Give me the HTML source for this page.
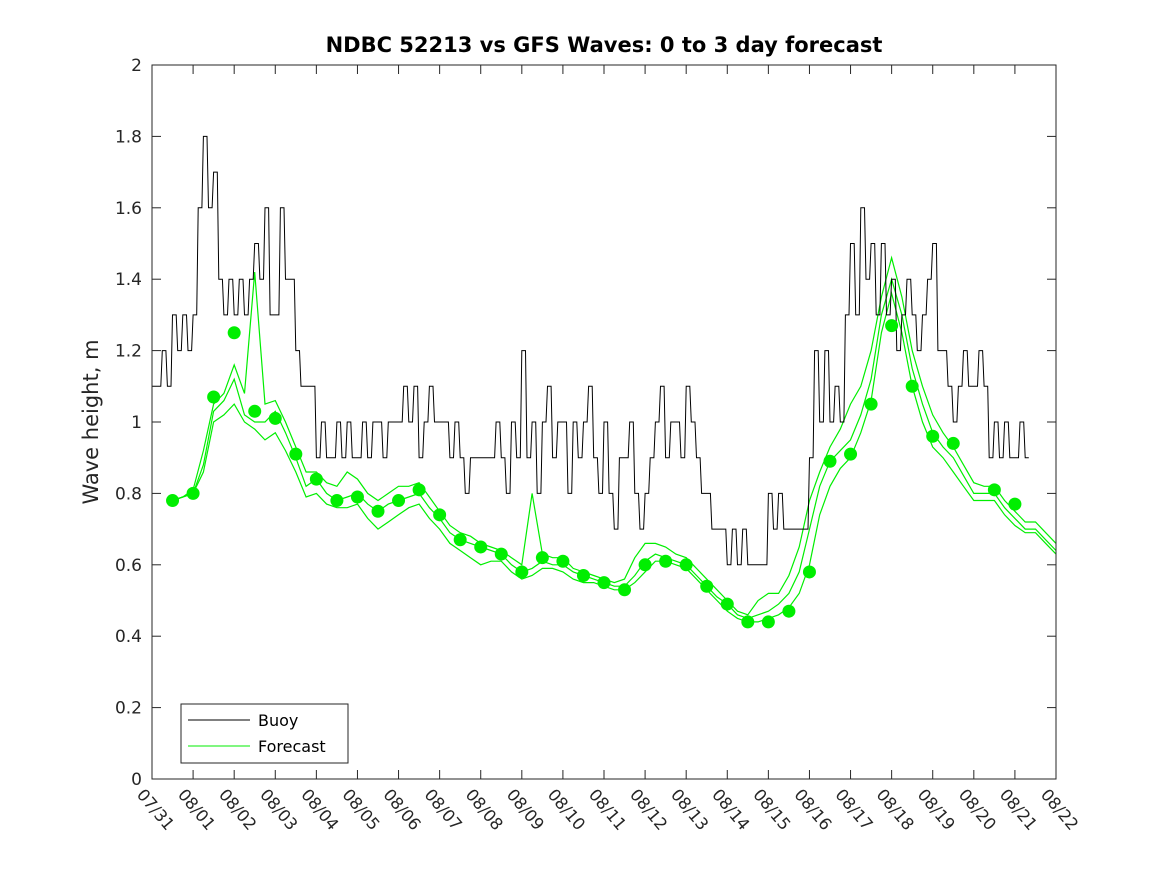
<!DOCTYPE html>
<html><head><meta charset="utf-8"><style>body{margin:0;background:#fff}svg{display:block}</style></head>
<body>
<svg id="c" width="1167" height="875" xmlns="http://www.w3.org/2000/svg" font-family="DejaVu Sans, sans-serif">
<rect width="1167" height="875" fill="#fff"/>
<text x="604" y="52" text-anchor="middle" font-weight="bold" font-size="21" fill="#000">NDBC 52213 vs GFS Waves: 0 to 3 day forecast</text>
<text transform="translate(98,422) rotate(-90)" text-anchor="middle" font-size="21" fill="#262626">Wave height, m</text>
<g id="grid"></g>
<g id="marks"></g>
<rect x="152" y="65" width="904" height="714" fill="none" stroke="#262626" stroke-width="1"/>
<g>
<rect x="181" y="704" width="167" height="59" fill="#fff" stroke="#262626"/>
<line x1="188" y1="720" x2="250" y2="720" stroke="#000"/>
<text x="258" y="726" font-size="16" fill="#000">Buoy</text>
<line x1="188" y1="746" x2="250" y2="746" stroke="#00ee00"/>
<text x="258" y="752" font-size="16" fill="#000">Forecast</text>
</g>
</svg>
<script>
const xTickLabels=["07/31","08/01","08/02","08/03","08/04","08/05","08/06","08/07","08/08","08/09","08/10","08/11","08/12","08/13","08/14","08/15","08/16","08/17","08/18","08/19","08/20","08/21","08/22"];
const yTicks=[0,0.2,0.4,0.6,0.8,1,1.2,1.4,1.6,1.8,2];
// buoy: 3-hourly from 07/31 00:00
const buoy=[1.1,1.1,1.2,1.1,1.3,1.2,1.3,1.2,
1.3,1.6,1.8,1.6,1.7,1.4,1.3,1.4,
1.3,1.4,1.3,1.4,1.5,1.4,1.6,1.3,
1.3,1.6,1.4,1.4,1.2,1.1,1.1,1.1,
0.9,1.0,0.9,0.9,1.0,0.9,1.0,0.9,
0.9,1.0,0.9,1.0,1.0,0.9,1.0,1.0,
1.0,1.1,1.0,1.1,0.9,1.0,1.1,1.0,
1.0,1.0,0.9,1.0,0.9,0.8,0.9,0.9,
0.9,0.9,0.9,1.0,0.9,0.8,1.0,0.9,
1.2,0.9,1.0,0.8,1.0,1.1,0.9,1.0,
1.0,0.8,1.0,0.9,1.0,1.1,0.9,0.8,
1.0,0.8,0.7,0.9,0.9,1.0,0.8,0.7,
0.8,0.9,1.0,1.1,0.9,1.0,1.0,0.9,
1.1,1.0,0.9,0.8,0.8,0.7,0.7,0.7,
0.6,0.7,0.6,0.7,0.6,0.6,0.6,0.6,
0.8,0.7,0.8,0.7,0.7,0.7,0.7,0.7,
0.9,1.2,1.0,1.2,1.0,1.1,1.0,1.3,
1.5,1.3,1.6,1.4,1.5,1.3,1.5,1.3,
1.4,1.2,1.3,1.4,1.3,1.2,1.3,1.4,
1.5,1.2,1.2,1.1,1.0,1.1,1.2,1.1,
1.1,1.2,1.1,0.9,1.0,0.9,1.0,0.9,
0.9,1.0,0.9];
// forecast runs: 6-hourly from 07/31 12:00
const fcA=[0.78,0.79,0.80,0.88,1.03,1.06,1.12,1.02,1.00,1.00,1.03,0.97,0.90,0.82,0.84,0.80,0.78,0.79,0.80,0.77,0.75,0.77,0.78,0.79,0.80,0.76,0.73,0.69,0.67,0.66,0.65,0.64,0.63,0.60,0.58,0.59,0.61,0.60,0.60,0.58,0.57,0.56,0.55,0.54,0.54,0.57,0.61,0.63,0.62,0.61,0.60,0.57,0.54,0.51,0.49,0.46,0.45,0.46,0.47,0.49,0.52,0.58,0.70,0.82,0.89,0.92,0.95,1.02,1.12,1.30,1.40,1.30,1.15,1.05,0.97,0.93,0.90,0.85,0.80,0.80,0.80,0.76,0.73,0.70,0.70,0.67,0.64];
const fcB=[0.78,0.79,0.81,0.92,1.05,1.08,1.16,1.08,1.42,1.05,1.06,1.00,0.93,0.86,0.86,0.83,0.82,0.86,0.84,0.80,0.78,0.80,0.82,0.82,0.83,0.79,0.75,0.71,0.69,0.68,0.66,0.65,0.64,0.62,0.60,0.80,0.63,0.62,0.62,0.59,0.58,0.57,0.56,0.55,0.56,0.62,0.66,0.66,0.65,0.63,0.62,0.59,0.56,0.53,0.50,0.47,0.46,0.50,0.52,0.52,0.57,0.65,0.78,0.86,0.93,0.98,1.05,1.10,1.20,1.35,1.46,1.35,1.20,1.10,1.02,0.97,0.93,0.88,0.83,0.82,0.82,0.78,0.75,0.72,0.72,0.69,0.66];
const fcC=[0.78,0.79,0.80,0.86,1.00,1.02,1.05,1.00,0.98,0.95,0.97,0.92,0.86,0.79,0.80,0.77,0.76,0.76,0.77,0.73,0.70,0.72,0.74,0.76,0.77,0.73,0.70,0.66,0.64,0.62,0.60,0.61,0.61,0.58,0.56,0.57,0.59,0.59,0.58,0.56,0.55,0.55,0.54,0.53,0.53,0.55,0.58,0.61,0.61,0.60,0.59,0.56,0.53,0.50,0.47,0.45,0.44,0.44,0.45,0.46,0.48,0.52,0.60,0.74,0.82,0.87,0.90,0.97,1.06,1.25,1.36,1.25,1.10,1.00,0.93,0.90,0.86,0.82,0.78,0.78,0.78,0.74,0.71,0.69,0.69,0.66,0.63];
// forecast dots: 12-hourly from 07/31 12:00
const dots=[0.78,0.80,1.07,1.25,1.03,1.01,0.91,0.84,0.78,0.79,0.75,0.78,0.81,0.74,0.67,0.65,0.63,0.58,0.62,0.61,0.57,0.55,0.53,0.60,0.61,0.60,0.54,0.49,0.44,0.44,0.47,0.58,0.89,0.91,1.05,1.27,1.10,0.96,0.94,null,0.81,0.77];
const NS='http://www.w3.org/2000/svg';
const X=d=>152+d*(904/22), Y=v=>779-v*357;
const grid=document.getElementById('grid'), marks=document.getElementById('marks');
function mk(tag,attrs,parent){const e=document.createElementNS(NS,tag);for(const k in attrs)e.setAttribute(k,attrs[k]);parent.appendChild(e);return e;}
yTicks.forEach(v=>{
 const t=mk('line',{x1:152,x2:161,y1:Y(v),y2:Y(v),stroke:'#262626'},grid);
 
 
 const t2=mk('line',{x1:1047,x2:1056,y1:Y(v),y2:Y(v),stroke:'#262626'},grid);
 
 
 const l=mk('text',{x:142,y:Y(v)+6,'text-anchor':'end','font-size':17,fill:'#262626'},grid);
 l.textContent=String(v);
 
 
});
xTickLabels.forEach((s,i)=>{
 const x=X(i);
 const t=mk('line',{x1:x,x2:x,y1:779,y2:770,stroke:'#262626'},grid);
 
 
 const t2=mk('line',{x1:x,x2:x,y1:65,y2:74,stroke:'#262626'},grid);
 
 
 const l=mk('text',{transform:`translate(${x-16},${795}) rotate(50)`,'font-size':16.5,fill:'#262626'},grid);
 l.textContent=s;
 
 
});
function fcLine(arr,name){
 const p=arr.map((v,i)=>X(0.5+i*0.25).toFixed(1)+','+Y(v).toFixed(1)).join(' ');
 const e=mk('polyline',{points:p,fill:'none',stroke:'#00ee00','stroke-width':1.2},marks);
 
 
}
fcLine(fcA,'forecast-run-a');fcLine(fcB,'forecast-run-b');fcLine(fcC,'forecast-run-c');
let bp=[];buoy.forEach((v,i)=>{const x0=X(i/8),x1=X((i+1)/8);bp.push(x0.toFixed(1)+','+Y(v).toFixed(1));bp.push((x1-1.5).toFixed(1)+','+Y(v).toFixed(1));});
const b=mk('polyline',{points:bp.join(' '),fill:'none',stroke:'#000','stroke-width':1},marks);


dots.forEach((v,i)=>{if(v===null)return;
 const c=mk('circle',{cx:X(0.5+i*0.5),cy:Y(v),r:6.5,fill:'#00ee00'},marks);
 
 
});
</script>
</body></html>
